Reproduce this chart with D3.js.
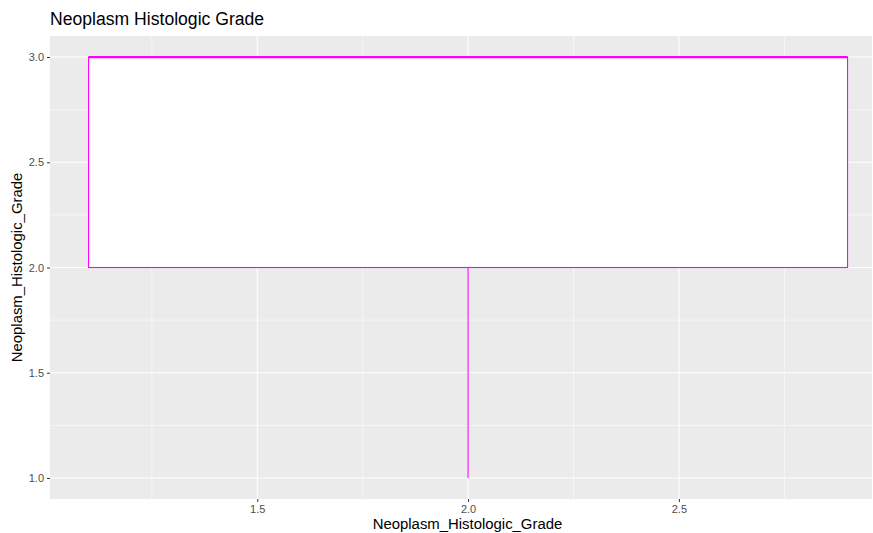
<!DOCTYPE html>
<html>
<head>
    <meta charset="utf-8">
    <style>
        body { margin: 0; background: #fff; }
        svg { display: block; font-family: 'Liberation Sans', Arial, Helvetica, sans-serif; }
        .tick text { font-size: 11px; fill: #4d4d4d; }
        .tick line { stroke: #333; }
        .domain { display: none; }
        .title { font-size: 17.6px; fill: #000; }
        .axis-title { font-size: 14.9px; fill: #000; }
    </style>
</head>
<body>
<svg width="873" height="533"></svg>
<script src="https://d3js.org/d3.v7.min.js"></script>
<script>
    // boxplot summary of Neoplasm_Histologic_Grade
    let boxX = [2.0]          // x position of the box
    let boxWidth = [1.8]      // box width in x units
    let lowerWhisker = [1.0]
    let q1 = [2.0]
    let median = [3.0]
    let q3 = [3.0]
    let upperWhisker = [3.0]

    let xTicks = [1.5, 2.0, 2.5]
    let xMinor = [1.25, 1.75, 2.25, 2.75]
    let yTicks = [1.0, 1.5, 2.0, 2.5, 3.0]
    let yMinor = [1.25, 1.75, 2.25, 2.75]

    let boxes = boxX.map((d, i) => ({
        x: d, w: boxWidth[i], lo: lowerWhisker[i], q1: q1[i],
        med: median[i], q3: q3[i], hi: upperWhisker[i]
    }))

    let margin = { top: 36, right: 1, bottom: 34, left: 50 }
    let width = 873, height = 533

    let svg = d3.select("svg")

    let x = d3.scaleLinear()
        .domain([1.0085, 2.958])
        .range([margin.left, width - margin.right])

    let y = d3.scaleLinear()
        .domain([0.9, 3.1])
        .range([height - margin.bottom, margin.top])

    // panel background
    svg.append("rect")
        .attr("x", margin.left)
        .attr("y", margin.top)
        .attr("width", width - margin.right - margin.left)
        .attr("height", height - margin.bottom - margin.top)
        .attr("fill", "#ebebeb")

    let grid = svg.append("g")
    grid.selectAll(".ymin").data(yMinor).join("line")
        .attr("x1", margin.left).attr("x2", width - margin.right)
        .attr("y1", d => y(d)).attr("y2", d => y(d))
        .attr("stroke", "#fff").attr("stroke-width", 0.55)
    grid.selectAll(".xmin").data(xMinor).join("line")
        .attr("y1", margin.top).attr("y2", height - margin.bottom)
        .attr("x1", d => x(d)).attr("x2", d => x(d))
        .attr("stroke", "#fff").attr("stroke-width", 0.55)
    grid.selectAll(".ymaj").data(yTicks).join("line")
        .attr("x1", margin.left).attr("x2", width - margin.right)
        .attr("y1", d => y(d)).attr("y2", d => y(d))
        .attr("stroke", "#fff").attr("stroke-width", 1.1)
    grid.selectAll(".xmaj").data(xTicks).join("line")
        .attr("y1", margin.top).attr("y2", height - margin.bottom)
        .attr("x1", d => x(d)).attr("x2", d => x(d))
        .attr("stroke", "#fff").attr("stroke-width", 1.1)

    // axes
    svg.append("g")
        .attr("transform", `translate(0,${height - margin.bottom})`)
        .call(d3.axisBottom(x).tickValues(xTicks).tickSize(3).tickPadding(3).tickFormat(d3.format(".1f")))

    svg.append("g")
        .attr("transform", `translate(${margin.left},0)`)
        .call(d3.axisLeft(y).tickValues(yTicks).tickSize(3).tickPadding(3).tickFormat(d3.format(".1f")))

    // boxplot
    let col = "#ff00ff"
    let bp = svg.append("g")
    bp.selectAll(".wlo").data(boxes).join("line")
        .attr("x1", d => x(d.x)).attr("x2", d => x(d.x))
        .attr("y1", d => y(d.q1)).attr("y2", d => y(d.lo))
        .attr("stroke", col).attr("stroke-width", 1.1)
    bp.selectAll(".whi").data(boxes).join("line")
        .attr("x1", d => x(d.x)).attr("x2", d => x(d.x))
        .attr("y1", d => y(d.q3)).attr("y2", d => y(d.hi))
        .attr("stroke", col).attr("stroke-width", 1.1)
    bp.selectAll("rect").data(boxes).join("rect")
        .attr("x", d => x(d.x - d.w / 2))
        .attr("width", d => x(d.x + d.w / 2) - x(d.x - d.w / 2))
        .attr("y", d => y(d.q3))
        .attr("height", d => y(d.q1) - y(d.q3))
        .attr("fill", "#fff").attr("stroke", col).attr("stroke-width", 1.1)
    bp.selectAll(".med").data(boxes).join("line")
        .attr("x1", d => x(d.x - d.w / 2)).attr("x2", d => x(d.x + d.w / 2))
        .attr("y1", d => y(d.med)).attr("y2", d => y(d.med))
        .attr("stroke", col).attr("stroke-width", 2.2)

    // titles
    svg.append("text")
        .attr("class", "title")
        .attr("x", margin.left)
        .attr("y", 25)
        .text("Neoplasm Histologic Grade")

    svg.append("text")
        .attr("class", "axis-title")
        .attr("x", 467.5)
        .attr("y", 529)
        .attr("text-anchor", "middle")
        .text("Neoplasm_Histologic_Grade")

    svg.append("text")
        .attr("class", "axis-title")
        .attr("transform", `translate(22,${(margin.top + height - margin.bottom) / 2}) rotate(-90)`)
        .attr("text-anchor", "middle")
        .text("Neoplasm_Histologic_Grade")
</script>
</body>
</html>
